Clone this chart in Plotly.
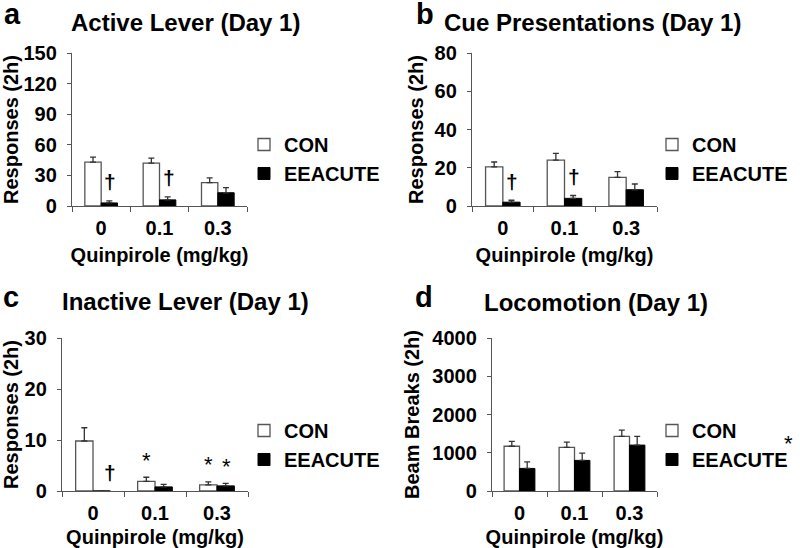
import plotly.graph_objects as go

# ---- data ----
doses = ["0", "0.1", "0.3"]

active_con = [43, 42, 23]
active_con_err = [5, 5, 4.5]
active_ee = [3, 6, 13]
active_ee_err = [2, 3, 5]

cue_con = [20.5, 24, 15]
cue_con_err = [2.5, 3.5, 3]
cue_ee = [2, 4, 8.5]
cue_ee_err = [1, 1.5, 3]

inactive_con = [9.8, 1.9, 1.2]
inactive_con_err = [2.6, 0.8, 0.6]
inactive_ee = [0, 0.8, 1.0]
inactive_ee_err = [0, 0.5, 0.5]

loco_con = [1170, 1140, 1430]
loco_con_err = [130, 140, 160]
loco_ee = [590, 800, 1200]
loco_ee_err = [170, 190, 230]

panel_titles = ["Active Lever (Day 1)", "Cue Presentations (Day 1)",
                "Inactive Lever (Day 1)", "Locomotion (Day 1)"]
panel_letters = ["a", "b", "c", "d"]
y_titles = ["Responses (2h)", "Responses (2h)", "Responses (2h)", "Beam Breaks (2h)"]
y_ranges = [[0, 150], [0, 80], [0, 30], [0, 4000]]
y_dticks = [30, 20, 10, 1000]
series_names = ["CON", "EEACUTE"]

FONT = "Liberation Sans, Arial, Helvetica, sans-serif"
W, H = 800, 548

# pixel geometry of each panel's plot area: (x0, x1, ytop, ybottom)
boxes = [(72, 247, 53, 206), (472, 657, 53, 206),
         (62, 248, 338, 491), (492, 657, 338, 491)]
ytitle_standoff = [9, 5, 10, 7]

fig = go.Figure()

panels = [
    (active_con, active_con_err, active_ee, active_ee_err),
    (cue_con, cue_con_err, cue_ee, cue_ee_err),
    (inactive_con, inactive_con_err, inactive_ee, inactive_ee_err),
    (loco_con, loco_con_err, loco_ee, loco_ee_err),
]

for i, (c, ce, e, ee) in enumerate(panels):
    n = i + 1
    xa = "x" if n == 1 else f"x{n}"
    ya = "y" if n == 1 else f"y{n}"
    lg = "legend" if n == 1 else f"legend{n}"
    fig.add_trace(go.Bar(
        x=doses, y=c, name=series_names[0], xaxis=xa, yaxis=ya, legend=lg,
        marker=dict(color="white", line=dict(color="#555555", width=1.3)),
        error_y=dict(type="data", array=ce, arrayminus=[0] * 3, symmetric=False,
                     color="#333333", thickness=1.3, width=3),
    ))
    fig.add_trace(go.Bar(
        x=doses, y=e, name=series_names[1], xaxis=xa, yaxis=ya, legend=lg,
        marker=dict(color="black", line=dict(color="black", width=1)),
        error_y=dict(type="data", array=ee, arrayminus=[0] * 3, symmetric=False,
                     color="#333333", thickness=1.3, width=3),
    ))

layout = dict(
    width=W, height=H, margin=dict(l=0, r=0, t=0, b=0, autoexpand=False),
    paper_bgcolor="white", plot_bgcolor="white",
    barmode="group", bargap=0.44, bargroupgap=0,
    font=dict(family=FONT, color="black", size=18, weight="bold"),
    showlegend=True,
)

for i, (x0, x1, yt, yb) in enumerate(boxes):
    n = i + 1
    suffix = "" if n == 1 else str(n)
    layout[f"xaxis{suffix}"] = dict(
        domain=[x0 / W, x1 / W], anchor=f"y{suffix}" if n > 1 else "y",
        type="category", tickson="boundaries", ticks="outside", ticklen=5,
        tickcolor="#555555", tickwidth=1.3, ticklabelstandoff=4,
        showline=True, linecolor="#555555", linewidth=1.3, showgrid=False,
        tickfont=dict(size=20, family=FONT, weight="bold"),
        title=dict(text="Quinpirole (mg/kg)", standoff=9,
                   font=dict(size=20, family=FONT, weight="bold")),
        fixedrange=True, automargin=False,
    )
    layout[f"yaxis{suffix}"] = dict(
        domain=[1 - yb / H, 1 - yt / H], anchor=f"x{suffix}" if n > 1 else "x",
        range=y_ranges[i], dtick=y_dticks[i], ticks="outside", ticklen=4,
        tickcolor="#555555", tickwidth=1.3, ticklabelstandoff=6,
        showline=True, linecolor="#555555", linewidth=1.3, showgrid=False,
        zeroline=False,
        tickfont=dict(size=20, family=FONT, weight="bold"),
        title=dict(text=y_titles[i], standoff=ytitle_standoff[i],
                   font=dict(size=20, family=FONT, weight="bold")),
        fixedrange=True, automargin=False,
    )

# legends
legend_pos = [(244, 159), (652, 159), (244, 445), (652, 445)]
for i, (lx, ly) in enumerate(legend_pos):
    key = "legend" if i == 0 else f"legend{i + 1}"
    layout[key] = dict(
        x=lx / W, y=1 - ly / H, xanchor="left", yanchor="middle",
        bgcolor="rgba(0,0,0,0)", borderwidth=0,
        font=dict(size=20, family=FONT, weight="bold"),
        itemwidth=30, tracegroupgap=0,
    )

fig.update_layout(**layout)

# panel letters and titles
title_pos = [(185, 22), (592, 22), (185, 301), (596, 302)]
letter_pos = [(12, 14), (425, 14), (11, 297), (424, 297)]
for i in range(4):
    tx, ty = title_pos[i]
    fig.add_annotation(text=panel_titles[i], xref="paper", yref="paper",
                       x=tx / W, y=1 - ty / H, showarrow=False,
                       xanchor="center", yanchor="middle",
                       font=dict(size=24, family=FONT, weight="bold"))
    lx, ly = letter_pos[i]
    fig.add_annotation(text=panel_letters[i], xref="paper", yref="paper",
                       x=lx / W, y=1 - ly / H, showarrow=False,
                       xanchor="center", yanchor="middle", height=26,
                       valign="middle",
                       font=dict(size=29, family=FONT, weight="bold"))

# significance markers (dagger vs CON; asterisk vs dose 0 / group effect)
dagger_marks = [("x", "y", 0, active_ee[0] + active_ee_err[0], 9),
                ("x", "y", 1, active_ee[1] + active_ee_err[1], 9),
                ("x2", "y2", 0, cue_ee[0] + cue_ee_err[0], 9),
                ("x2", "y2", 1, cue_ee[1] + cue_ee_err[1], 9),
                ("x3", "y3", 0, inactive_ee[0] + inactive_ee_err[0], 17)]
for xr, yr, xi, yv, dx in dagger_marks:
    fig.add_annotation(text="†", xref=xr, yref=yr, x=xi, y=yv, xshift=dx,
                       yshift=19, showarrow=False,
                       font=dict(size=21, family=FONT, weight="bold"))

star_marks = [(1, inactive_con[1] + inactive_con_err[1], -9),
              (2, inactive_con[2] + inactive_con_err[2], -9),
              (2, inactive_ee[2] + inactive_ee_err[2], 9)]
for xi, yv, dx in star_marks:
    fig.add_annotation(text="*", xref="x3", yref="y3", x=xi, y=yv, xshift=dx,
                       yshift=17, showarrow=False,
                       font=dict(size=22, family=FONT, weight="normal"))

fig.add_annotation(text="*", xref="paper", yref="paper", x=795 / W,
                   y=1 - 458 / H, showarrow=False,
                   font=dict(size=22, family=FONT, weight="normal"))

fig.write_html("out.html", post_script="document.body.style.margin='0';",
               config={"displayModeBar": False})
